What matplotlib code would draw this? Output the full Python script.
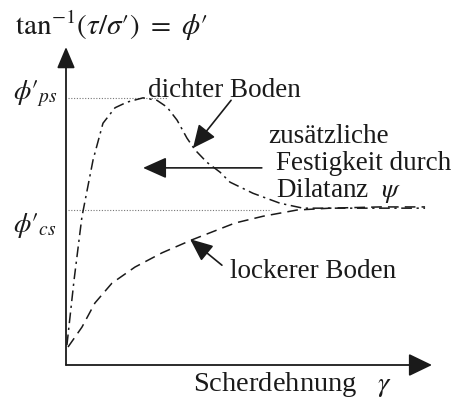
import matplotlib
matplotlib.use("Agg")
import matplotlib.pyplot as plt

plt.rcParams['font.family'] = ['Liberation Serif', 'DejaVu Serif']
plt.rcParams['mathtext.fontset'] = 'stix'

# Kennwerte (Winkel in Grad, Scherdehnung in %)
phi_ps = 43.0
phi_cs = 25.0

# dichter Boden (Strich-Punkt)
gamma_dicht = [0.05, 0.44, 0.87, 1.48, 2.02, 2.68, 3.33, 4.21, 4.97, 5.52, 6.07,
               6.61, 7.05, 7.70, 8.42, 8.96, 10.22, 11.69, 12.95, 14.97, 17.16, 19.62]
phi_dicht = [3.2, 13.7, 23.9, 33.1, 39.0, 41.5, 42.4, 43.1, 42.7, 41.6, 39.5,
             36.6, 34.7, 32.7, 31.1, 29.5, 27.7, 26.1, 25.3, 25.3, 25.3, 25.3]

# lockerer Boden (gestrichelt)
gamma_locker = [0.11, 0.87, 1.58, 2.51, 3.77, 5.25, 6.89, 9.23, 10.77, 12.62,
                14.43, 17.16, 19.62]
phi_locker = [2.9, 6.1, 10.0, 13.2, 15.8, 18.1, 20.2, 22.9, 24.0, 25.0,
              25.3, 25.5, 25.5]

ink = '#1a1a1a'
W, H = 461, 401

fig = plt.figure(figsize=(W / 100, H / 100), dpi=100)
fig.patch.set_facecolor('white')
ax = fig.add_axes([66 / W, (H - 365) / H, 366 / W, 318 / H])
ax.set_xlim(0, 20)
ax.set_ylim(0, 51.3)
ax.axis('off')

# Achsen mit Pfeilen
ax.annotate('', xy=(0, 1.0), xytext=(0, 0), xycoords='axes fraction',
            arrowprops=dict(arrowstyle='-|>,head_length=1.3,head_width=0.55',
                            mutation_scale=10, lw=1.3, color=ink, shrinkA=0, shrinkB=0))
ax.annotate('', xy=(1.0, 0), xytext=(0, 0), xycoords='axes fraction',
            arrowprops=dict(arrowstyle='-|>,head_length=1.45,head_width=0.7',
                            mutation_scale=10, lw=1.3, color=ink, shrinkA=0, shrinkB=0))

# Hilfslinien
ax.plot([0.1, 5.6], [phi_ps, phi_ps], color='#777777', lw=0.8, ls=(0, (1, 1.5)))
ax.plot([0.1, 11.2], [phi_cs, phi_cs], color='#777777', lw=0.8, ls=(0, (1, 1.5)))

# Kurven
ax.plot(gamma_dicht, phi_dicht, color=ink, lw=1.1, ls=(0, (7, 3, 1.5, 3)))
ax.plot(gamma_locker, phi_locker, color=ink, lw=1.1, ls=(0, (7, 4)))

# Beschriftungen
fs = 19.5
ax.text(-0.45, phi_ps - 0.1, r"$\phi\prime_{ps}$", fontsize=20, ha='right', va='baseline', color=ink)
ax.text(-0.5, phi_cs - 3.5, r"$\phi\prime_{cs}$", fontsize=20, ha='right', va='baseline', color=ink)

ax.text(4.5, 43.2, 'dichter Boden', fontsize=fs, va='baseline', color=ink)
ax.annotate('', xy=(6.94, 35.0), xytext=(9.02, 42.7),
            arrowprops=dict(arrowstyle='-|>,head_length=1.4,head_width=0.65',
                            mutation_scale=10, lw=1.2, color=ink, shrinkA=0, shrinkB=0))

ax.text(11.05, 35.8, 'zusätzliche', fontsize=fs, va='baseline', color=ink)
ax.text(11.45, 31.4, 'Festigkeit durch', fontsize=fs, va='baseline', color=ink)
ax.text(11.45, 27.1, r'Dilatanz  $\psi$', fontsize=fs, va='baseline', color=ink)
ax.annotate('', xy=(4.21, 31.8), xytext=(10.7, 31.8),
            arrowprops=dict(arrowstyle='-|>,head_length=1.45,head_width=0.65',
                            mutation_scale=10, lw=1.2, color=ink, shrinkA=0, shrinkB=0))

ax.text(8.97, 14.0, 'lockerer Boden', fontsize=fs, va='baseline', color=ink)
ax.annotate('', xy=(6.78, 20.3), xytext=(8.52, 16.1),
            arrowprops=dict(arrowstyle='-|>,head_length=1.4,head_width=0.6',
                            mutation_scale=10, lw=1.2, color=ink, shrinkA=0, shrinkB=0))

fig.text(15 / W, 1 - 35 / H, r"$\mathrm{tan}^{-1}(\tau/\sigma\prime)\ =\ \phi\prime$",
         fontsize=21, va='baseline', color=ink)
fig.text(193 / W, 1 - 391 / H, r'Scherdehnung   $\gamma$', fontsize=20.5, va='baseline', color=ink)

fig.savefig('out.png', dpi=100, facecolor='white')
